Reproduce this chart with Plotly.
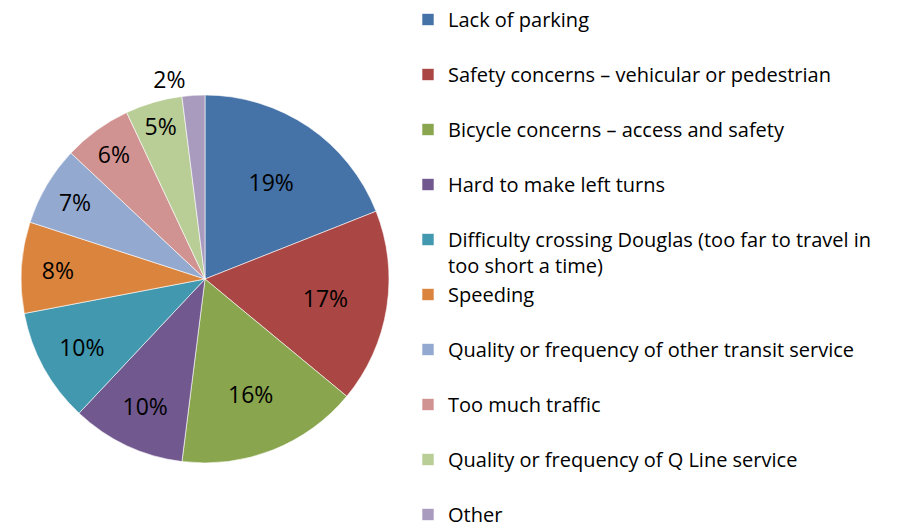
import plotly.graph_objects as go

categories = [
    'Lack of parking',
    'Safety concerns – vehicular or pedestrian',
    'Bicycle concerns – access and safety',
    'Hard to make left turns',
    'Difficulty crossing Douglas (too far to travel in<br>too short a time)',
    'Speeding',
    'Quality or frequency of other transit service',
    'Too much traffic',
    'Quality or frequency of Q Line service',
    'Other',
]
shares = [19, 17, 16, 10, 10, 8, 7, 6, 5, 2]
colors = ['#4572A7', '#AA4643', '#89A54E', '#71588F', '#4198AF',
          '#DB843D', '#93A9CF', '#D19392', '#B9CD96', '#A99BBD']

# every legend entry takes two lines, like the original; the long one wraps itself
legend_labels = [c if ('<br>' in c or c == 'Other') else c + '<br>&nbsp;' for c in categories]

fig = go.Figure()
fig.add_trace(go.Pie(
    labels=legend_labels,
    values=shares,
    sort=False,
    direction='clockwise',
    rotation=0,
    marker=dict(colors=colors, line=dict(color='white', width=0.6)),
    texttemplate='%{value}%',
    textposition=['inside'] * 9 + ['outside'],
    insidetextorientation='horizontal',
    textfont=dict(family='Open Sans', size=23, color='black'),
    hoverinfo='label+percent',
    domain=dict(x=[13 / 905, 381 / 905], y=[77 / 532, 445 / 532]),
))

fig.update_layout(
    width=905,
    height=532,
    margin=dict(l=0, r=0, t=0, b=0, autoexpand=False),
    paper_bgcolor='white',
    plot_bgcolor='white',
    font=dict(family='Open Sans', size=20, color='black'),
    showlegend=True,
    legend=dict(
        x=400 / 905,
        y=1 + 8 / 532,
        xanchor='left',
        yanchor='top',
        valign='top',
        traceorder='normal',
        maxheight=1000,
        font=dict(family='Open Sans', size=20, color='black'),
        bgcolor='rgba(0,0,0,0)',
    ),
)

fig.write_html("out.html")
